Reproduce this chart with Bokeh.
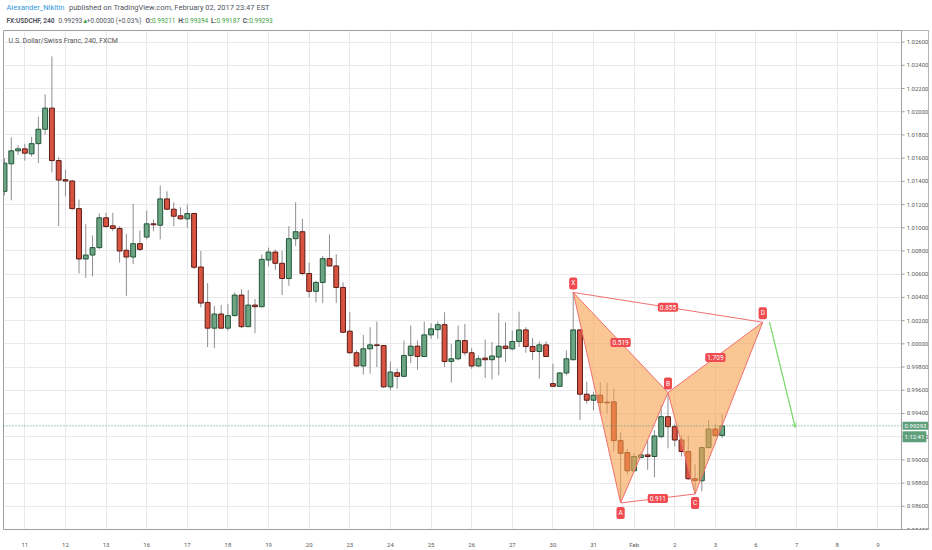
from bokeh.plotting import figure
from bokeh.layouts import column
from bokeh.models import (ColumnDataSource, Range1d, FixedTicker, Label, Span, BoxAnnotation,
                          Arrow, OpenHead)
from bokeh.embed import file_html
from bokeh.resources import INLINE
from bokeh.core.properties import value

# ---------------- data (USDCHF, 240 min candles) ----------------
opens = [1.01314, 1.01551, 1.01663, 1.01680, 1.01637, 1.01725, 1.01849, 1.02031, 1.01579, 1.01414,
         1.01403, 1.01165, 1.00731, 1.00765, 1.00829, 1.01086, 1.01017, 1.00994, 1.00806, 1.00748,
         1.00863, 1.00920, 1.01034, 1.01022, 1.01249, 1.01160, 1.01103, 1.01077, 1.01123, 1.00662,
         1.00357, 1.00135, 1.00257, 1.00135, 1.00243, 1.00420, 1.00148, 1.00334, 1.00320, 1.00722,
         1.00791, 1.00694, 1.00563, 1.00906, 1.00966, 1.00606, 1.00452, 1.00529, 1.00734, 1.00671,
         1.00486, 1.00109, 0.99923, 0.99809, 0.99957, 0.99991, 0.99985, 0.99629, 0.99751, 0.99720,
         0.99900, 0.99980, 0.99891, 1.00077, 1.00122, 1.00165, 0.99848, 0.99871, 1.00028, 0.99923,
         0.99809, 0.99877, 0.99863, 0.99886, 0.99980, 0.99957, 1.00020, 1.00120, 0.99977, 0.99934,
         0.99991, 0.99657, 0.99634, 0.99749, 0.99863, 1.00120, 0.99566, 0.99514, 0.99557, 0.99497,
         0.99500, 0.99166, 0.99063, 0.98906, 0.99020, 0.99043, 0.99029, 0.99200, 0.99372, 0.99286,
         0.99171, 0.99072, 0.98837, 0.98820, 0.99106, 0.99266, 0.99211]
highs = [1.01600, 1.01780, 1.01711, 1.01723, 1.01785, 1.01957, 1.02151, 1.02477, 1.01609, 1.01500,
         1.01414, 1.01243, 1.01034, 1.00934, 1.01123, 1.01129, 1.01129, 1.01014, 1.00949, 1.01208,
         1.00977, 1.01148, 1.01071, 1.01363, 1.01314, 1.01219, 1.01177, 1.01200, 1.01129, 1.00800,
         1.00523, 1.00328, 1.00334, 1.00343, 1.00443, 1.00471, 1.00463, 1.00386, 1.00771, 1.00829,
         1.00814, 1.00800, 1.01014, 1.01219, 1.01077, 1.00700, 1.00543, 1.00757, 1.00943, 1.00771,
         1.00529, 1.00272, 0.99943, 1.00077, 1.00143, 1.00191, 0.99991, 0.99848, 0.99786, 1.00028,
         1.00157, 1.00028, 1.00191, 1.00177, 1.00195, 1.00272, 1.00000, 1.00157, 1.00171, 0.99963,
         0.99900, 1.00037, 1.00015, 1.00266, 1.00186, 1.00114, 1.00277, 1.00143, 1.00049, 1.00020,
         1.00020, 0.99829, 0.99757, 0.99943, 1.00443, 1.00129, 0.99672, 0.99586, 0.99672, 0.99666,
         0.99614, 0.99237, 0.99094, 0.99057, 0.99057, 0.99171, 0.99257, 0.99471, 0.99580, 0.99314,
         0.99214, 0.99209, 0.98963, 0.99115, 0.99343, 0.99314, 0.99394]
lows = [1.01280, 1.01237, 1.01628, 1.01579, 1.01614, 1.01557, 1.01800, 1.01477, 1.01014, 1.01271,
        1.01157, 1.00606, 1.00568, 1.00580, 1.00814, 1.01000, 1.00971, 1.00700, 1.00414, 1.00686,
        1.00800, 1.00900, 1.00971, 1.00900, 1.01151, 1.01014, 1.01071, 1.01000, 1.00643, 1.00314,
        0.99972, 0.99963, 1.00135, 1.00114, 1.00237, 1.00135, 1.00143, 1.00092, 1.00314, 1.00666,
        1.00637, 1.00420, 1.00500, 1.00842, 1.00591, 1.00400, 1.00357, 1.00351, 1.00666, 1.00351,
        1.00090, 0.99914, 0.99800, 0.99734, 0.99743, 0.99800, 0.99620, 0.99600, 0.99614, 0.99715,
        0.99835, 0.99777, 0.99886, 1.00043, 1.00043, 0.99800, 0.99666, 0.99857, 0.99900, 0.99786,
        0.99800, 0.99706, 0.99694, 0.99728, 0.99843, 0.99943, 0.99972, 0.99923, 0.99863, 0.99700,
        0.99886, 0.99629, 0.99629, 0.99728, 0.99857, 0.99343, 0.99486, 0.99428, 0.99400, 0.99400,
        0.99072, 0.98629, 0.98877, 0.98900, 0.99014, 0.98914, 0.98849, 0.99186, 0.99100, 0.99115,
        0.99029, 0.98829, 0.98706, 0.98729, 0.99100, 0.99200, 0.99187]
closes = [1.01557, 1.01663, 1.01680, 1.01643, 1.01725, 1.01849, 1.02031, 1.01579, 1.01411, 1.01403,
          1.01165, 1.00731, 1.00765, 1.00829, 1.01086, 1.01011, 1.00994, 1.00800, 1.00748, 1.00863,
          1.00814, 1.01034, 1.01026, 1.01249, 1.01160, 1.01100, 1.01077, 1.01123, 1.00660, 1.00351,
          1.00135, 1.00257, 1.00135, 1.00243, 1.00420, 1.00148, 1.00334, 1.00320, 1.00728, 1.00791,
          1.00694, 1.00563, 1.00906, 1.00966, 1.00606, 1.00452, 1.00529, 1.00734, 1.00671, 1.00486,
          1.00100, 0.99923, 0.99809, 0.99957, 0.99991, 0.99985, 0.99629, 0.99757, 0.99720, 0.99900,
          0.99980, 0.99891, 1.00077, 1.00129, 1.00165, 0.99848, 0.99871, 1.00028, 0.99923, 0.99809,
          0.99871, 0.99863, 0.99895, 0.99980, 0.99960, 1.00020, 1.00120, 0.99977, 0.99934, 0.99991,
          0.99891, 0.99634, 0.99749, 0.99871, 1.00120, 0.99566, 0.99514, 0.99557, 0.99494, 0.99492,
          0.99166, 0.99057, 0.98906, 0.99029, 0.99043, 0.99029, 0.99206, 0.99372, 0.99286, 0.99171,
          0.99072, 0.98837, 0.98823, 0.99106, 0.99266, 0.99209, 0.99293]

day_index = [3, 9, 15, 21, 27, 33, 39, 45, 51, 57, 63, 69, 75, 81, 87, 93, 99, 105, 111, 117, 123, 129]
day_labels = ["11", "12", "13", "16", "17", "18", "19", "20", "23", "24", "25", "26", "27",
              "30", "31", "Feb", "2", "3", "6", "7", "8", "9"]
price_ticks = [0.984, 0.986, 0.988, 0.990, 0.992, 0.994, 0.996, 0.998, 1.000, 1.002, 1.004,
               1.006, 1.008, 1.010, 1.012, 1.014, 1.016, 1.018, 1.020, 1.022, 1.024, 1.026]
price_tick_labels = ["0.98400", "0.98600", "0.98800", "0.99000", "0.99200", "0.99400", "0.99600",
                     "0.99800", "1.00000", "1.00200", "1.00400", "1.00600", "1.00800", "1.01000",
                     "1.01200", "1.01400", "1.01600", "1.01800", "1.02000", "1.02200", "1.02400",
                     "1.02600"]

# harmonic pattern points
pat_names = ["X", "A", "B", "C", "D"]
pat_x = [84, 91, 98, 102, 112]
pat_y = [1.00443, 0.98629, 0.99580, 0.98706, 1.00186]
pat_label_dy = [9, -10, 9, -9, 9]
ratio_text = ["0.855", "0.519", "1.709", "0.911"]
ratio_pairs = [("X", "D"), ("X", "B"), ("B", "D"), ("A", "C")]
proj_x = [113, 116.8]
proj_y = [1.00186, 0.99280]

last_price = 0.99293
last_price_text = "0.99293"
countdown_text = "1:12:41"

# ---------------- styling ----------------
UP_FILL, UP_LINE = "#6ba583", "#225437"
DN_FILL, DN_LINE = "#d75442", "#5b1a13"
FONT = "Roboto"
AX = "#9e9e9e"
AXIS_X = 132.5      # data x where the price scale starts
X_END = 136.48      # right edge of the chart box

# ---------------- header strip ----------------
hdr = figure(width=932, height=30, output_backend="svg", toolbar_location=None,
             x_range=Range1d(0, 932), y_range=Range1d(30, 0),
             x_axis_location=None, y_axis_location=None,
             min_border_left=0, min_border_right=0, min_border_top=0, min_border_bottom=0)
hdr.grid.visible = False
hdr.outline_line_color = None
hdr.background_fill_color = "white"
hdr.border_fill_color = "white"

HDR = "#4f5560"
GRN = "#3f9f45"
def htxt(x, y, t, color=HDR, size="6.5px", bold=False):
    hdr.add_layout(Label(x=x, y=y, text=t, text_align="left", text_baseline="middle",
                         text_color=color, text_font=FONT, text_font_size=size,
                         text_font_style="bold" if bold else "normal"))

htxt(3, 7, "Alexander_Nikitin", color="#3399dd", size="7.5px")
htxt(66, 7, "published on TradingView.com, February 02, 2017 23:47 EST", size="7.5px")
htxt(3, 20, "FX:USDCHF, 240", bold=True)
htxt(55.5, 20, "0.99293")
htxt(79, 20, "\u25B2", color=GRN)
htxt(84, 20, " +0.00030 (+0.03%)")
htxt(143, 20, "O:", bold=True)
htxt(149.5, 20, "0.99211", color=GRN)
htxt(176, 20, "H:", bold=True)
htxt(182.5, 20, "0.99394", color=GRN)
htxt(209, 20, "L:", bold=True)
htxt(214.5, 20, "0.99187", color=GRN)
htxt(241, 20, "C:", bold=True)
htxt(247.5, 20, "0.99293", color=GRN)

# ---------------- main chart ----------------
p = figure(width=932, height=520, output_backend="svg", toolbar_location=None,
           x_range=Range1d(-0.15, X_END), y_range=Range1d(0.984, 1.0270),
           y_axis_location=None, min_border_left=3, min_border_top=0,
           min_border_bottom=19, min_border_right=4)
p.background_fill_color = "white"
p.border_fill_color = "white"
p.outline_line_color = AX

xs = list(range(len(opens)))
tops = [max(o, c) for o, c in zip(opens, closes)]
bots = [min(o, c) for o, c in zip(opens, closes)]
fills = [UP_FILL if c >= o else DN_FILL for o, c in zip(opens, closes)]
lines = [UP_LINE if c >= o else DN_LINE for o, c in zip(opens, closes)]
src = ColumnDataSource(dict(x=xs, high=highs, low=lows, top=tops, bottom=bots,
                            fill=fills, line=lines))

# grid
p.xgrid.ticker = FixedTicker(ticks=day_index)
p.ygrid.ticker = FixedTicker(ticks=price_ticks)
p.xgrid.grid_line_color = "#e9e9ec"
p.ygrid.grid_line_color = "#e9e9ec"

# price-scale strip on the right (covers grid)
p.add_layout(BoxAnnotation(left=AXIS_X, fill_color="white", fill_alpha=1.0,
                           line_color=None, level="underlay"))

# last price dotted line
p.add_layout(Span(location=last_price, dimension="width", line_color="#4e9a73",
                  line_dash="1 2", line_width=1))

# candles
p.segment(x0="x", y0="low", x1="x", y1="high", source=src, line_color="#8f8f93", line_width=1)
p.vbar(x="x", top="top", bottom="bottom", width=0.72, source=src,
       fill_color="fill", line_color="line", line_width=1)

# pattern
pt = dict(zip(pat_names, zip(pat_x, pat_y)))
tri1 = ["X", "A", "B"]
tri2 = ["B", "C", "D"]
p.patches(xs=[[pt[n][0] for n in tri1], [pt[n][0] for n in tri2]],
          ys=[[pt[n][1] for n in tri1], [pt[n][1] for n in tri2]],
          fill_color="#f6a04d", fill_alpha=0.6, line_color="#f07070", line_width=1)
for a, b in [("X", "D"), ("A", "C")]:
    p.line([pt[a][0], pt[b][0]], [pt[a][1], pt[b][1]], line_color="#f07070", line_width=1)

LBL_BG = "#ef4b50"
for (a, b), t in zip(ratio_pairs, ratio_text):
    p.add_layout(Label(x=(pt[a][0] + pt[b][0]) / 2, y=(pt[a][1] + pt[b][1]) / 2, text=t,
                       text_align="center", text_baseline="middle", text_color="white",
                       text_font=FONT, text_font_size="6.5px",
                       background_fill_color=LBL_BG, border_radius=2, padding=2))
for n, dy in zip(pat_names, pat_label_dy):
    p.add_layout(Label(x=pt[n][0], y=pt[n][1], y_offset=dy, text=n,
                       text_align="center", text_baseline="middle", text_color="white",
                       text_font=FONT, text_font_size="6.5px",
                       background_fill_color=LBL_BG, border_radius=2, padding=2))

# projection
p.line(proj_x, proj_y, line_color="#7fdc6e", line_width=1)
p.add_layout(Arrow(end=OpenHead(size=4, line_color="#7fdc6e", line_width=1),
                   x_start=proj_x[0], y_start=proj_y[0], x_end=proj_x[1], y_end=proj_y[1],
                   line_color="#7fdc6e", line_width=1))

# bottom time axis
p.xaxis.ticker = FixedTicker(ticks=day_index)
p.xaxis.major_label_overrides = {i: l for i, l in zip(day_index, day_labels)}
p.xaxis.axis_line_color = AX
p.xaxis.major_label_text_font = FONT
p.xaxis.major_label_text_font_size = "6px"
p.xaxis.major_label_text_color = "#5a5a5a"
p.xaxis.minor_tick_line_color = None
p.xaxis.major_tick_line_color = None
p.xaxis.major_label_standoff = 5

# right price scale: line, ticks and labels placed with the y scale
p.add_layout(Span(location=AXIS_X, dimension="height", line_color=AX, line_width=1))
p.segment(x0=[AXIS_X] * len(price_ticks), x1=[AXIS_X + 0.45] * len(price_ticks),
          y0=price_ticks, y1=price_ticks, line_color=AX, line_width=1)
p.text(x=[AXIS_X + 0.75] * len(price_ticks), y=price_ticks, text=price_tick_labels,
       text_align="left", text_baseline="middle", text_color="#5a5a5a",
       text_font=value(FONT), text_font_size="6px")

# price tags
p.add_layout(Label(x=AXIS_X, y=last_price, x_offset=1, text=last_price_text,
                   text_align="left", text_baseline="middle", text_color="white",
                   text_font=FONT, text_font_size="6px", background_fill_color="#5e9e7b",
                   padding=2))
p.add_layout(Label(x=AXIS_X, y=last_price, x_offset=1, y_offset=-11, text=countdown_text,
                   text_align="left", text_baseline="middle", text_color="white",
                   text_font=FONT, text_font_size="6px", background_fill_color="#5e9e7b",
                   padding=2))

# series legend
p.add_layout(Label(x=5, y=489, x_units="screen", y_units="screen",
                   text="U.S. Dollar/Swiss Franc, 240, FXCM", text_align="left",
                   text_baseline="middle", text_color="#555555", text_font=FONT,
                   text_font_size="7px"))

layout = column(hdr, p, spacing=0)
open("out.html", "w").write(file_html(layout, INLINE))
